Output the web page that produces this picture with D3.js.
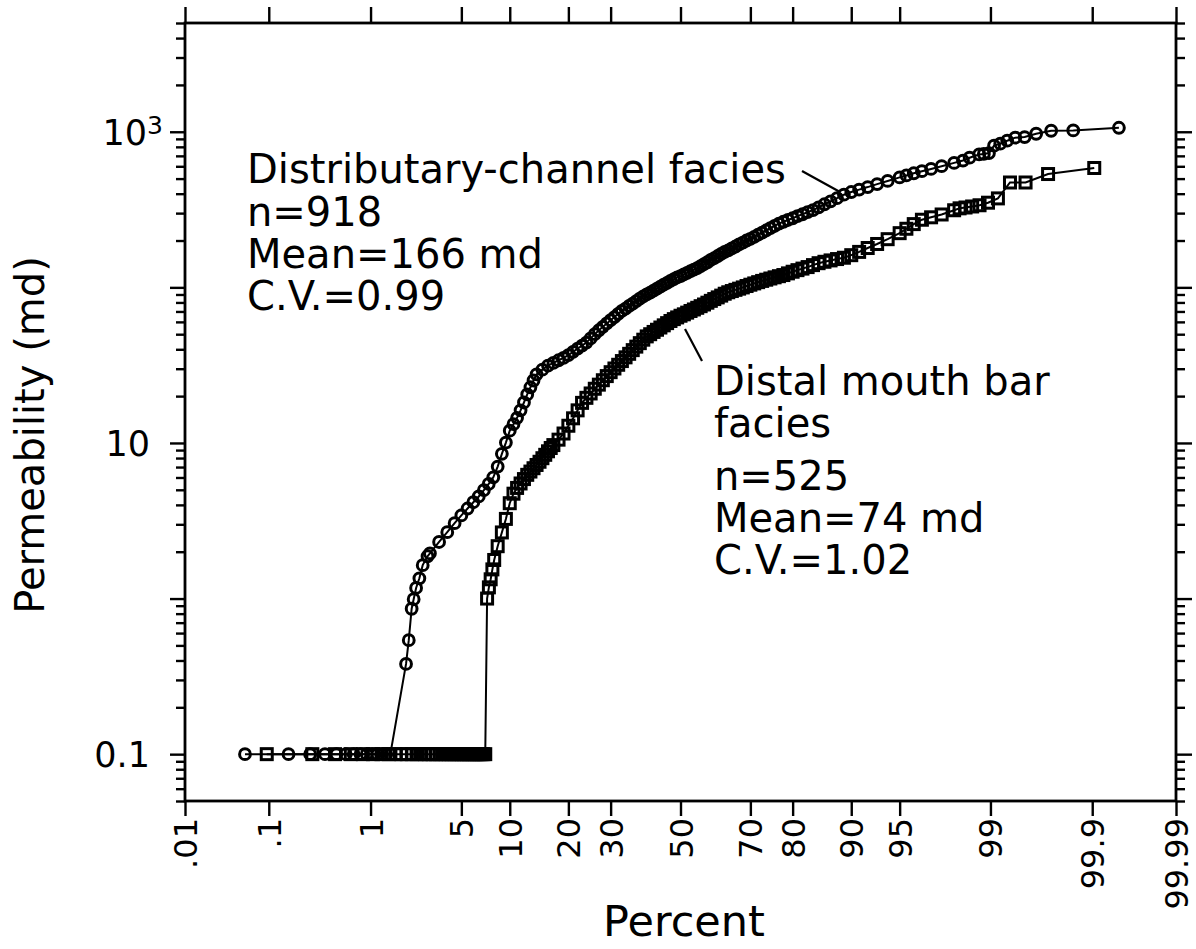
<!DOCTYPE html>
<html><head><meta charset="utf-8">
<script src="https://cdn.jsdelivr.net/npm/d3@7"></script>
<style>
html,body{margin:0;padding:0;background:#fff;}
svg text{font-family:"DejaVu Sans",sans-serif;fill:#000;}
</style></head>
<body><svg id="chart" width="1196" height="949"></svg>
<script>
// ---------- data ----------
const xTickPercents = [0.01, 0.1, 1, 5, 10, 20, 30, 50, 70, 80, 90, 95, 99, 99.9, 99.99];
const xTickLabels = [".01", ".1", "1", "5", "10", "20", "30", "50", "70", "80", "90", "95", "99", "99.9", "99.99"];
const yLabelValues = [0.1, 10, 1000];
const yMajorValues = [0.1, 1, 10, 100, 1000];

// Distributary-channel facies (circles): cumulative percent, permeability (md)
const channelPct = [0.054,0.163,0.272,0.381,0.49,0.599,0.708,0.817,0.926,1.035,1.144,1.253,1.362,1.471,
  1.97,2.07,2.18,2.26,2.36,2.50,2.65,2.88,
  3,3.5,4,4.5,5,5.5,6,6.5,7,7.5,8,8.5,9,9.5,10,10.5,11,11.5,12,12.5,13,13.5,14,
  15,16,17,18,19,20,21,22,23,24,25,26,27,28,29,30,31,32,33,34,35,36,37,38,39,40,
  41,42,43,44,45,46,47,48,49,50,51,52,53,54,55,56,57,58,59,60,61,62,63,64,65,66,67,68,69,70,
  71,72,73,74,75,76,77,78,79,80,81,82,83,84,85,86,87,88,89,90,91,92,93,94,95,95.5,96,96.5,97,97.5,
  98,98.3,98.5,98.75,98.86,98.97,99.07,99.18,99.29,99.40,99.51,99.62,99.73,99.84,99.95];
const channelPerm = [0.1,0.1,0.1,0.1,0.1,0.1,0.1,0.1,0.1,0.1,0.1,0.1,0.1,0.1,
  0.38,0.54,0.86,0.99,1.17,1.35,1.64,1.87,
  1.95,2.31,2.67,3.05,3.42,3.79,4.16,4.53,4.97,5.45,6.01,7.05,8.51,10.06,12.0,13.2,14.5,16.2,18.2,20.5,22.8,25.2,27.6,
  29.6,31.4,32.7,34.0,35.2,36.7,38.5,40.4,42.2,44.2,47.0,50.0,53.0,55.8,58.6,61.5,64.4,67.6,70.5,73.1,75.9,78.7,81.6,84.7,87.6,90.2,
  92.6,95.4,98.2,101,104,107,110,113,116,118,121,124,127,130,133,137,141,145,150,154,159,164,169,173,178,183,189,194,200,205,
  211,218,225,232,240,248,257,264,271,278,287,295,304,314,327,342,357,374,394,410,425,441,461,483,509,524,541,558,577,601,
  631,653,681,715,720,730,814,838,876,916,925,971,1015,1020,1061];

// Distal mouth bar facies (squares)
const mouthPct = [0.095,0.286,0.476,0.667,0.857,1.05,1.24,1.43,1.62,1.81,2.0,2.19,2.38,2.57,2.76,2.95,3.14,3.33,3.52,3.71,
  3.9,4.1,4.29,4.48,4.67,4.86,5.05,5.24,5.43,5.62,5.81,6.0,6.19,6.38,6.57,6.76,6.95,7.14,
  7.33,7.52,7.71,7.9,8.1,8.5,9,9.5,10,10.5,11,11.5,12,12.5,13,13.5,14,14.5,15,15.5,16,16.5,17,
  18,19,20,21,22,23,24,25,26,27,28,29,30,31,32,33,34,35,36,37,38,39,40,41,42,43,44,45,46,47,48,49,50,
  51,52,53,54,55,56,57,58,59,60,61,62,63,64,65,66,67,68,69,70,71,72,73,74,75,76,77,78,79,80,
  81,82,83,84,85,86,87,88,89,90,91,92,93,94,95,95.5,96,96.5,97,97.5,
  98.0,98.19,98.38,98.57,98.76,98.95,99.14,99.33,99.52,99.71,99.905];
const mouthPerm = [0.1,0.1,0.1,0.1,0.1,0.1,0.1,0.1,0.1,0.1,0.1,0.1,0.1,0.1,0.1,0.1,0.1,0.1,0.1,0.1,
  0.1,0.1,0.1,0.1,0.1,0.1,0.1,0.1,0.1,0.1,0.1,0.1,0.1,0.1,0.1,0.1,0.1,0.1,
  1.0,1.18,1.33,1.54,1.77,2.17,2.66,3.25,4.10,4.72,5.14,5.49,5.86,6.24,6.55,6.88,7.22,7.57,7.98,8.39,8.84,9.28,9.69,
  10.5,11.5,12.9,14.4,16.2,18.1,19.5,20.8,22.3,23.7,25.3,26.9,28.5,30.1,31.8,33.6,35.5,37.4,39.5,41.6,43.8,46.1,48.4,50.0,51.7,53.4,55.2,57.0,58.9,60.8,62.5,64.1,65.7,
  67.1,68.8,70.5,72.1,73.9,75.7,77.6,79.7,81.9,84.1,86.2,88.5,91.0,93.0,94.7,96.4,98.1,99.9,102,104,106,108,110,112,114,116,118,120,123,126,
  129,132,135,139,143,146,149,152,155,161,169,179,190,204,223,238,255,272,282,294,
  313,322,326,331,337,350,373,472,472,535,585];

// ---------- helpers ----------
function probit(p){
  const a=[-3.969683028665376e+01,2.209460984245205e+02,-2.759285104469687e+02,1.383577518672690e+02,-3.066479806614716e+01,2.506628277459239e+00];
  const b=[-5.447609879822406e+01,1.615858368580409e+02,-1.556989798598866e+02,6.680131188771972e+01,-1.328068155288572e+01];
  const c=[-7.784894002430293e-03,-3.223964580411365e-01,-2.400758277161838e+00,-2.549732539343734e+00,4.374664141464968e+00,2.938163982698783e+00];
  const d=[7.784695709041462e-03,3.224671290700398e-01,2.445134137142996e+00,3.754408661907416e+00];
  const pl=0.02425, ph=1-pl; let q,r;
  if(p<pl){q=Math.sqrt(-2*Math.log(p));return (((((c[0]*q+c[1])*q+c[2])*q+c[3])*q+c[4])*q+c[5])/((((d[0]*q+d[1])*q+d[2])*q+d[3])*q+1);}
  if(p<=ph){q=p-0.5;r=q*q;return (((((a[0]*r+a[1])*r+a[2])*r+a[3])*r+a[4])*r+a[5])*q/(((((b[0]*r+b[1])*r+b[2])*r+b[3])*r+b[4])*r+1);}
  q=Math.sqrt(-2*Math.log(1-p));return -(((((c[0]*q+c[1])*q+c[2])*q+c[3])*q+c[4])*q+c[5])/((((d[0]*q+d[1])*q+d[2])*q+d[3])*q+1);
}

const L=185, R=1176, T=23, B=801;
const svg = d3.select("#chart");
const zScale = d3.scaleLinear().domain([probit(0.0001), probit(0.9999)]).range([L, R]);
const xp = p => zScale(probit(p/100));
const y = d3.scaleLog().domain([0.05, 5000]).range([B, T]);

const zTicks = xTickPercents.map(p => probit(p/100));
const yMinor = y.ticks().filter(v => !yMajorValues.some(m => Math.abs(v/m - 1) < 1e-6));

function styleAxis(g){
  g.select(".domain").remove();
  g.selectAll(".tick line").attr("stroke","#000").attr("stroke-width",2.4);
}

// bottom axis
const gb = svg.append("g").attr("transform",`translate(0,${B})`)
  .call(d3.axisBottom(zScale).tickValues(zTicks).tickSize(15).tickFormat((d,i)=>xTickLabels[i]));
styleAxis(gb);
gb.selectAll(".tick text").attr("transform","rotate(-90)").attr("x",-17).attr("y",0).attr("dy","0.36em")
  .attr("text-anchor","end").style("font-size","32px").style("font-family","DejaVu Sans");

// top axis
const gt = svg.append("g").attr("transform",`translate(0,${T})`)
  .call(d3.axisTop(zScale).tickValues(zTicks).tickSize(16).tickFormat(""));
styleAxis(gt);

// left axis
const glMin = svg.append("g").attr("transform",`translate(${L},0)`)
  .call(d3.axisLeft(y).tickValues(yMinor).tickSize(9).tickFormat(""));
styleAxis(glMin);
const glMaj = svg.append("g").attr("transform",`translate(${L},0)`)
  .call(d3.axisLeft(y).tickValues(yMajorValues).tickSize(15).tickPadding(20).tickFormat(""));
styleAxis(glMaj);
glMaj.selectAll(".tick").each(function(v){
  if(!yLabelValues.some(m=>Math.abs(v/m-1)<1e-6)) return;
  const t = d3.select(this).select("text").attr("text-anchor","end").attr("dy","0.36em")
    .style("font-size","35px").style("font-family","DejaVu Sans");
  if (Math.abs(v-1000)<1e-6){
    t.attr("x",-22).text(null);
    t.append("tspan").text("10");
    t.append("tspan").text("3").style("font-size","25px").attr("dy","-11");
  } else {
    t.text(v===0.1 ? "0.1" : String(v));
  }
});

// right axis
const grMin = svg.append("g").attr("transform",`translate(${R},0)`)
  .call(d3.axisRight(y).tickValues(yMinor).tickSize(9).tickFormat(""));
styleAxis(grMin);
const grMaj = svg.append("g").attr("transform",`translate(${R},0)`)
  .call(d3.axisRight(y).tickValues(yMajorValues).tickSize(16).tickFormat(""));
styleAxis(grMaj);

// frame
svg.append("rect").attr("x",L).attr("y",T).attr("width",R-L).attr("height",B-T)
  .attr("fill","none").attr("stroke","#000").attr("stroke-width",2.8);

// series
const channel = channelPct.map((p,i)=>({p, v: channelPerm[i]}));
const mouth = mouthPct.map((p,i)=>({p, v: mouthPerm[i]}));
const line = d3.line().x(d=>xp(d.p)).y(d=>y(d.v));

svg.append("path").datum(mouth).attr("d",line).attr("fill","none").attr("stroke","#000").attr("stroke-width",2);
svg.append("path").datum(channel).attr("d",line).attr("fill","none").attr("stroke","#000").attr("stroke-width",2);

svg.append("g").selectAll("rect").data(mouth).join("rect")
  .attr("x",d=>xp(d.p)-5.5).attr("y",d=>y(d.v)-5.5).attr("width",11).attr("height",11)
  .attr("fill","none").attr("stroke","#000").attr("stroke-width",3);
svg.append("g").selectAll("circle").data(channel).join("circle")
  .attr("cx",d=>xp(d.p)).attr("cy",d=>y(d.v)).attr("r",5.4)
  .attr("fill","none").attr("stroke","#000").attr("stroke-width",3);

// annotations
const ann1 = ["Distributary-channel facies","n=918","Mean=166 md","C.V.=0.99"];
const ann2 = ["Distal mouth bar","facies","n=525","Mean=74 md","C.V.=1.02"];
const ann1Base = [183,226,268,310];
const ann2Base = [395,437,490,532,574];
ann1.forEach((s,i)=>svg.append("text").attr("x",247).attr("y",ann1Base[i]).style("font-size","40px").text(s));
ann2.forEach((s,i)=>svg.append("text").attr("x",714).attr("y",ann2Base[i]).style("font-size","40px").text(s));
svg.append("line").attr("x1",802).attr("y1",171).attr("x2",840).attr("y2",192).attr("stroke","#000").attr("stroke-width",2.2);
svg.append("line").attr("x1",685).attr("y1",329).attr("x2",702).attr("y2",361).attr("stroke","#000").attr("stroke-width",2.2);

// axis titles
svg.append("text").attr("x",684).attr("y",936).attr("text-anchor","middle").style("font-size","43px").text("Percent");
svg.append("text").attr("transform","translate(44,435) rotate(-90)").attr("text-anchor","middle").style("font-size","40px").text("Permeability (md)");
</script></body></html>
